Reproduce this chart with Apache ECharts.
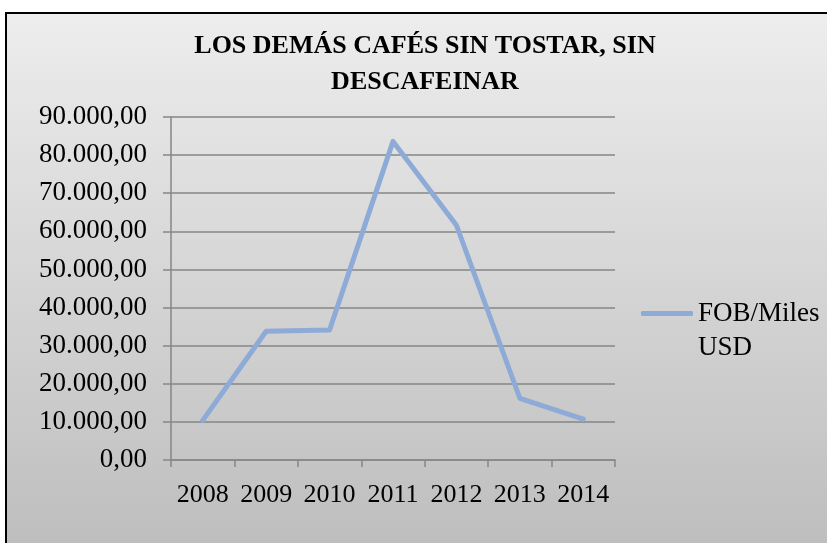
<!DOCTYPE html>
<html>
<head>
<meta charset="utf-8">
<script src="https://cdn.jsdelivr.net/npm/echarts@6/dist/echarts.min.js"></script>
<style>
  html, body { margin: 0; padding: 0; background: #ffffff; }
  #frame {
    position: absolute; left: 5px; top: 12px; width: 830px; height: 540px;
    border-left: 2px solid #000; border-top: 2px solid #000;
    background: linear-gradient(#ededed, #bdbdbd);
  }
  #content { position: absolute; left: 0; top: 0; width: 827px; height: 543px; }
</style>
</head>
<body>
<div id="frame"></div>
<div id="content"></div>
<script>
const years = ['2008', '2009', '2010', '2011', '2012', '2013', '2014']
const fobValues = [10400, 33800, 34100, 83600, 61600, 16200, 10700]
const seriesName = 'FOB/Miles USD'

// 90000 -> "90.000,00"
function fmt(v) {
  const s = String(Math.round(v))
  return s.replace(/\B(?=(\d{3})+(?!\d))/g, '.') + ',00'
}

const serif = "'Liberation Serif', 'Times New Roman', serif"
const lineColor = '#8eaad6'
const chart = echarts.init(document.querySelector('#content'))
chart.setOption({
  backgroundColor: 'transparent',
  title: {
    text: 'LOS DEMÁS CAFÉS SIN TOSTAR, SIN\nDESCAFEINAR',
    left: 425,
    top: 28,
    textAlign: 'center',
    padding: 0,
    textStyle: {
      fontFamily: serif, fontWeight: 'bold', fontSize: 26,
      lineHeight: 36, color: '#000'
    }
  },
  legend: {
    left: 641,
    top: 298,
    padding: 0,
    itemWidth: 52,
    itemHeight: 5,
    icon: 'roundRect',
    itemStyle: { color: lineColor },
    // first line of the legend text, second line is drawn below
    formatter: function () { return 'FOB/Miles' },
    textStyle: { fontFamily: serif, fontSize: 27, color: '#000', lineHeight: 31 }
  },
  graphic: [
    {
      type: 'text',
      left: 698,
      top: 334,
      style: { text: 'USD', font: "27px 'Liberation Serif', serif", fill: '#000' }
    }
  ],
  grid: { left: 171, right: 212, top: 117, bottom: 83 },
  xAxis: {
    type: 'category',
    data: years,
    boundaryGap: true,
    axisLine: { lineStyle: { color: '#868686', width: 1.5 } },
    axisTick: { show: true, interval: 0, length: 7, lineStyle: { color: '#868686', width: 1.5 } },
    axisLabel: { interval: 0, margin: 22, fontFamily: serif, fontSize: 26, color: '#000' }
  },
  yAxis: {
    type: 'value',
    min: 0,
    max: 90000,
    interval: 10000,
    axisLine: { show: true, lineStyle: { color: '#868686', width: 1.5 } },
    axisTick: { show: true, length: 8, lineStyle: { color: '#868686', width: 1.5 } },
    splitLine: { lineStyle: { color: '#868686', width: 1.5 } },
    axisLabel: { margin: 24, formatter: fmt, fontFamily: serif, fontSize: 27, color: '#000' }
  },
  series: [
    {
      name: seriesName,
      type: 'line',
      data: fobValues,
      symbol: 'none',
      color: lineColor,
      lineStyle: { width: 5, color: lineColor, cap: 'round', join: 'round' }
    }
  ]
})
</script>
</body>
</html>
